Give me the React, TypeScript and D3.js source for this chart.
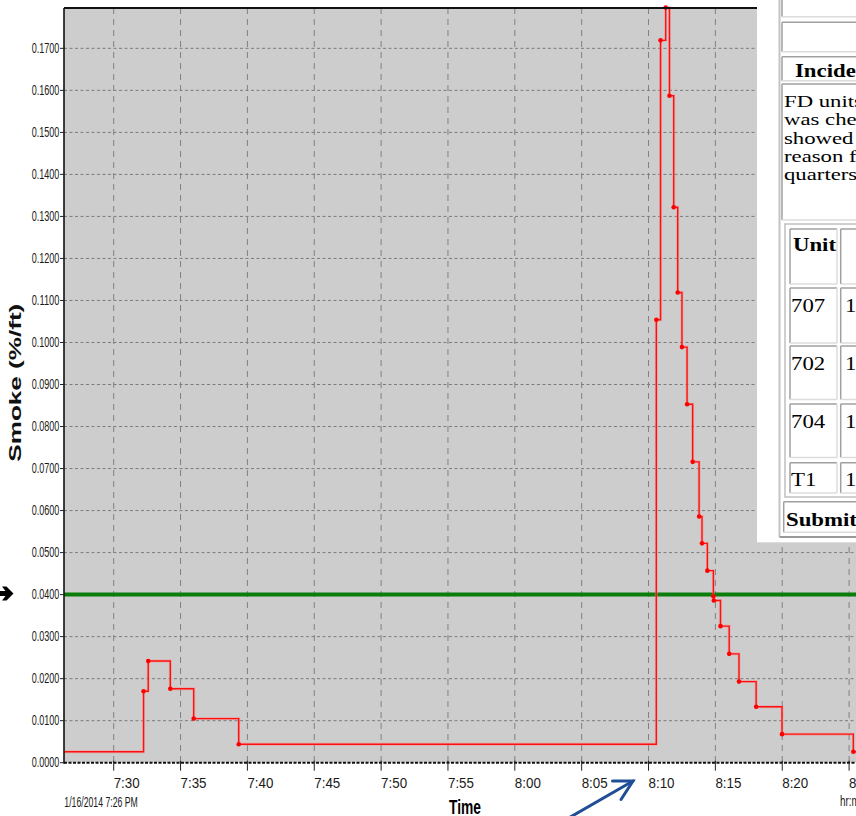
import React from 'react';
import * as d3 from 'd3';

// ---- data ----
const sampleTimes = [
  '19:26:00', '19:32:14', '19:32:35', '19:34:14', '19:35:59', '19:39:21',
  '20:10:35', '20:10:54', '20:11:17', '20:11:34', '20:11:53', '20:12:11',
  '20:12:30', '20:12:53', '20:13:18', '20:13:47', '20:14:00', '20:14:24',
  '20:14:51', '20:14:53', '20:15:23', '20:16:02', '20:16:46', '20:18:03',
  '20:19:59', '20:25:19',
];
const smokeValues = [
  0.0026, 0.0170, 0.0242, 0.0176, 0.0105, 0.0044,
  0.1054, 0.1719, 0.1797, 0.1587, 0.1322, 0.1119,
  0.0989, 0.0853, 0.0716, 0.0586, 0.0522, 0.0457,
  0.0396, 0.0386, 0.0325, 0.0259, 0.0193, 0.0133,
  0.0068, 0.0026,
];
const alarmLevel = 0.04;
const yTicks = [0, 0.01, 0.02, 0.03, 0.04, 0.05, 0.06, 0.07, 0.08, 0.09, 0.1, 0.11, 0.12, 0.13, 0.14, 0.15, 0.16, 0.17];
const xTickTimes = ['19:30', '19:35', '19:40', '19:45', '19:50', '19:55', '20:00', '20:05', '20:10', '20:15', '20:20', '20:25'];
const xTickLabels = ['7:30', '7:35', '7:40', '7:45', '7:50', '7:55', '8:00', '8:05', '8:10', '8:15', '8:20', '8:25'];
const day = '2014-01-16 ';
const domainStart = '19:26:17';
const domainEnd = '20:25:40';
const yMax = 0.1796;

const paragraphLines = ['FD units', 'was checked', 'showed', 'reason for', 'quarters'];
const unitRows = ['707', '702', '704', 'T1'];
const unitCounts = ['1', '1', '1', '1'];

export default function App() {
  const parse = d3.timeParse('%Y-%m-%d %H:%M:%S');
  const parseHM = d3.timeParse('%Y-%m-%d %H:%M');
  const L = 64, T = 8, R = 858, B = 762.7;
  const x = d3.scaleTime()
    .domain([parse(day + domainStart) as Date, parse(day + domainEnd) as Date])
    .range([L, R]);
  const y = d3.scaleLinear().domain([0, yMax]).range([B, T]);

  const pts = sampleTimes.map((t, i) => ({ t: parse(day + t) as Date, v: smokeValues[i] }));
  const linePts = [...pts, { t: x.domain()[1], v: smokeValues[smokeValues.length - 1] }];
  const line = d3.line<{ t: Date; v: number }>()
    .x(d => x(d.t))
    .y(d => y(d.v))
    .curve(d3.curveStepAfter);

  const xTicks = xTickTimes.map(t => parseHM(day + t) as Date);
  const fmtY = d3.format('.4f');

  const sans = "'Liberation Sans', Arial, sans-serif";
  const serif = "'Liberation Serif', 'Times New Roman', serif";

  // table overlay geometry (layout only)
  const col1X = 790, col1W = 47, col2X = 840.7;
  const rowSpans: [number, number][] = [[288, 343], [346, 399.5], [404, 457.5], [462.7, 493]];

  const cell = (x0: number, y0: number, w: number, h: number, key: string) => (
    <g key={key}>
      <rect x={x0} y={y0} width={w} height={h} fill="#ffffff" stroke="none" />
      <line x1={x0} y1={y0} x2={x0 + w} y2={y0} stroke="#a0a0a0" strokeWidth={1.5} />
      <line x1={x0} y1={y0} x2={x0} y2={y0 + h} stroke="#a0a0a0" strokeWidth={1.5} />
      <line x1={x0} y1={y0 + h} x2={x0 + w} y2={y0 + h} stroke="#dcdcdc" strokeWidth={1.5} />
      <line x1={x0 + w} y1={y0} x2={x0 + w} y2={y0 + h} stroke="#dcdcdc" strokeWidth={1.5} />
    </g>
  );

  const serifText = (s: string, tx: number, ty: number, bold: boolean, key: string, size = 19, sx = 1.2) => (
    <text key={key} transform={`translate(${tx},${ty}) scale(${sx},1)`} fontFamily={serif}
      fontSize={size} fontWeight={bold ? 'bold' : 'normal'} fill="#000">{s}</text>
  );

  return (
    <svg width={856} height={816} style={{ position: 'absolute', left: 0, top: 0, background: '#fff' }}
      xmlns="http://www.w3.org/2000/svg">
      <defs>
        <clipPath id="plotClip">
          <rect x={L} y={4} width={R - L} height={B - 4 + 1} />
        </clipPath>
      </defs>
      <rect x={0} y={0} width={856} height={816} fill="#ffffff" />
      {/* plot background */}
      <rect x={L} y={T} width={R - L} height={B - T} fill="#cdcdcd" />

      {/* horizontal grid */}
      {yTicks.filter(v => v > 0).map(v => (
        <line key={'hg' + v} x1={L} x2={R} y1={y(v)} y2={y(v)} stroke="#7c7c7c" strokeWidth={1} strokeDasharray="3,2.5" />
      ))}
      {/* vertical grid */}
      {xTicks.map((t, i) => (
        <line key={'vg' + i} x1={x(t)} x2={x(t)} y1={T} y2={B} stroke="#808080" strokeWidth={1} strokeDasharray="6,5" />
      ))}

      {/* alarm threshold */}
      <line x1={L} x2={R} y1={y(alarmLevel)} y2={y(alarmLevel)} stroke="#0a7d0a" strokeWidth={4} />

      {/* smoke series */}
      <g clipPath="url(#plotClip)">
        <path d={line(linePts) || ''} fill="none" stroke="#ff8080" strokeWidth={3} opacity={0.45} />
        <path d={line(linePts) || ''} fill="none" stroke="#ff1010" strokeWidth={1.4} />
        {pts.map((p, i) => (
          <circle key={'m' + i} cx={x(p.t)} cy={y(p.v)} r={2.3} fill="#ff0000" />
        ))}
      </g>

      {/* axes */}
      <line x1={L} x2={R} y1={T} y2={T} stroke="#111" strokeWidth={2} />
      <line x1={L} x2={L} y1={T} y2={B + 1} stroke="#111" strokeWidth={1.6} />
      <line x1={L} x2={R} y1={B} y2={B} stroke="#111" strokeWidth={2} strokeDasharray="3,1.5" />

      {yTicks.map(v => (
        <g key={'yt' + v}>
          <line x1={L - 4} x2={L} y1={y(v)} y2={y(v)} stroke="#222" strokeWidth={1} />
          <text x={31.7} y={y(v) + 4.6} fontFamily={sans} fontSize={14} fill="#1a1a1a"
            textLength={27.7} lengthAdjust="spacingAndGlyphs">{fmtY(v)}</text>
        </g>
      ))}
      {xTicks.map((t, i) => (
        <g key={'xt' + i}>
          <line x1={x(t)} x2={x(t)} y1={B - 2} y2={B + 8} stroke="#222" strokeWidth={1} />
          <text x={x(t)} y={787.5} fontFamily={sans} fontSize={15} fill="#1a1a1a"
            textLength={26} lengthAdjust="spacingAndGlyphs">{xTickLabels[i]}</text>
        </g>
      ))}

      <text x={64.3} y={806.5} fontFamily={sans} fontSize={14.5} fill="#1a1a1a"
        textLength={73.5} lengthAdjust="spacingAndGlyphs">1/16/2014 7:26 PM</text>
      <text x={840} y={806} fontFamily={sans} fontSize={14.5} fill="#1a1a1a"
        textLength={28} lengthAdjust="spacingAndGlyphs">hr:mm</text>
      <text x={449} y={813.5} fontFamily={sans} fontSize={20} fontWeight="bold" fill="#000"
        textLength={32} lengthAdjust="spacingAndGlyphs">Time</text>
      <text transform="translate(21,461.7) rotate(-90)" fontFamily={sans} fontSize={16} fontWeight="bold" fill="#111"
        textLength={158} lengthAdjust="spacingAndGlyphs">Smoke (%/ft)</text>

      {/* left pointer arrow */}
      <path d="M0,591 L5.5,591 L2,586.5 L6.5,586.5 L13.5,593.5 L6.5,600.5 L2,600.5 L5.5,596 L0,596 Z" fill="#000" />

      {/* blue annotation arrow */}
      <g stroke="#1f4e96" strokeWidth={3} strokeLinecap="round" fill="none">
        <line x1={560} y1={823} x2={633} y2={781} />
        <polyline points="612.5,781 633,781 621,799.5" strokeLinejoin="miter" />
      </g>

      {/* overlapping form panel */}
      <g>
        <rect x={757} y={0} width={110} height={542.3} fill="#ffffff" />
        <line x1={779.5} y1={0} x2={779.5} y2={537} stroke="#c4c4c4" strokeWidth={2} />
        <line x1={779.5} y1={537} x2={870} y2={537} stroke="#9a9a9a" strokeWidth={2} />
        {cell(782, -10, 90, 26.7, 'c1')}
        {cell(782, 22.3, 90, 29.4, 'c2')}
        {cell(782, 56.7, 90, 24, 'c3')}
        {serifText('Incident', 795, 76.5, true, 'inc')}
        {cell(782, 84, 90, 136, 'c4')}
        {paragraphLines.map((s, i) => serifText(s, 784, 107 + i * 18.3, false, 'p' + i, 17.5, 1.3))}
        {/* nested unit table */}
        <rect x={785} y={224} width={90} height={273} fill="#fff" stroke="#c0c0c0" strokeWidth={1.5} />
        {cell(col1X, 229, col1W, 55, 'uh1')}
        {cell(col2X, 229, 40, 55, 'uh2')}
        {serifText('Unit', 793, 250.5, true, 'unit')}
        {rowSpans.map(([a, b], i) => (
          <g key={'r' + i}>
            {cell(col1X, a, col1W, b - a, 'ra' + i)}
            {cell(col2X, a, 40, b - a, 'rb' + i)}
            {serifText(unitRows[i], 791, a + 23.5, false, 'ut' + i)}
            {serifText(unitCounts[i], 845, a + 23.5, false, 'uc' + i)}
          </g>
        ))}
        {cell(783.7, 501.7, 90, 30.6, 'sub')}
        {serifText('Submit', 786, 526, true, 'subt')}
      </g>
    </svg>
  );
}
